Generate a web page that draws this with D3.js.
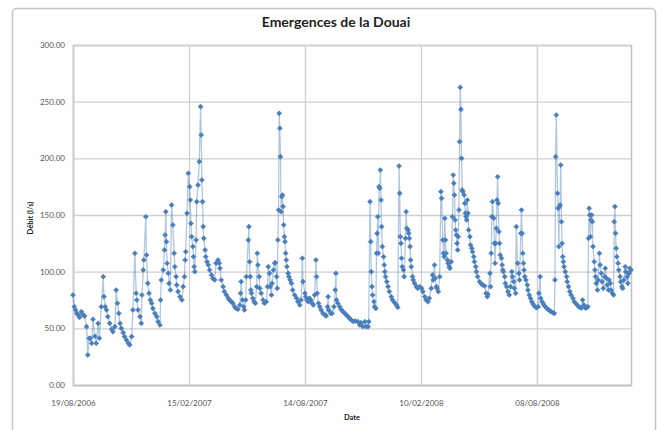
<!DOCTYPE html>
<html>
<head>
<meta charset="utf-8">
<script src="https://cdn.jsdelivr.net/npm/d3@7"></script>
<style>
  html, body { margin: 0; padding: 0; background: #ffffff; }
  svg { display: block; }
</style>
</head>
<body>
<svg id="chart" width="663" height="430"></svg>
<script>
// ---- data ----
const title = "Emergences de la Douai";
const xTitle = "Date";
const yTitle = "Débit (l/s)";
const startDate = "19/08/2006";
const endDayOffset = 866;
const xTickLabels = ["19/08/2006", "15/02/2007", "14/08/2007", "10/02/2008", "08/08/2008"];
const yTicks = [0, 50, 100, 150, 200, 250, 300];

// days since 19/08/2006
const dayOffsets = [
0,2,4,6,8,10,13,16,18,21,23,25,27,29,31,34,36,39,41,44,47,48,50,52,54,57,60,62,65,67,69,71,73,75,78,80,83,86,88,91,93,96,98,99,101,104,106,107,109,110,113,114,116,118,120,122,124,127,130,132,135,136,137,140,142,143,144,145,146,148,149,151,153,155,157,158,160,161,163,166,169,171,173,174,175,177,179,181,182,183,184,186,187,188,189,191,192,194,196,198,199,200,201,202,203,205,206,208,
210,212,215,217,220,222,225,227,228,230,233,235,238,241,243,246,248,251,253,256,259,260,261,263,265,266,268,269,272,273,274,275,276,277,279,281,283,285,286,287,289,290,292,295,297,300,302,303,305,306,308,309,311,313,314,316,317,318,319,320,321,322,323,324,325,326,327,328,329,330,331,332,334,335,337,339,341,344,347,349,352,354,356,357,360,361,363,365,367,369,371,373,375,377,378,379,381,383,385,388,391,393,395,396,397,400,402,405,407,408,409,411,414,416,419,422,424,427,429,432,
435,438,442,445,447,450,453,455,458,459,461,462,463,464,465,467,468,470,471,472,473,474,475,476,477,478,479,480,482,483,484,485,487,489,491,494,496,499,502,504,506,507,508,509,510,511,513,514,516,517,518,520,521,522,523,524,525,527,528,530,533,535,538,541,543,546,548,551,553,556,558,559,561,562,564,565,567,569,571,572,574,575,576,577,578,579,581,582,584,585,587,589,590,591,592,593,594,595,596,597,598,599,600,601,602,603,604,605,607,608,609,610,611,612,613,614,616,617,619,620,622,623,625,626,628,631,634,636,639,641,643,644,
647,648,649,650,651,653,654,655,656,657,658,659,660,661,662,663,665,666,667,668,670,671,673,675,677,679,681,682,684,685,687,688,690,692,693,695,696,697,698,699,700,701,703,705,706,708,710,712,714,716,719,722,723,725,726,728,730,732,735,737,740,742,745,747,748,749,750,752,753,754,755,756,757,758,759,760,761,762,764,766,767,769,771,773,776,778,781,784,786,789,791,793,795,797,799,800,801,802,803,804,805,806,807,809,810,811,812,814,815,817,818,820,821,823,825,826,828,829,831,832,834,835,837,839,840,841,842,843,844,846,847,849,850,852,853,855,857,858,860,861,863,864,866
];

// flow in l/s
const debit = [
79.4,69.1,66.2,63.2,61.8,59.7,64.7,61.8,60.9,51.5,26.5,41.2,41.2,36.8,58,43,36.8,54.4,41.2,69.1,95.6,78,69.1,66.2,60.3,54.4,49.1,47,51.5,83.8,72.1,63.2,54.4,50,46.2,42.7,39.7,36.8,35.3,42.7,66.2,116.2,80.9,75,66.2,60.3,54.4,79.4,101.5,110.3,148.5,114.7,89.7,80.9,75,72.1,67.6,63.2,60.3,55.9,53,75,92.6,101.5,119.1,132.4,152.9,126.5,107.4,98.5,89.7,83.8,158.8,141.2,116.2,104.4,95.6,88.2,82.4,77.9,75,86.8,95.6,110.3,117.6,151.5,186.8,175,163.2,142.6,130.9,122.1,113.2,104.4,100,128,161.8,176.5,197.1,245.6,220.6,180.9,161.8,139.7,129.4,119.1,113.2,108.8,
105.9,101.5,97.1,94.1,92.7,107.4,110.3,107.4,103,92.7,86.8,82.4,79.4,76.5,75,73.5,72.1,69.1,67.6,66.8,70.6,80.9,91.2,75,69.1,66.2,75,95.6,127.9,139.7,108.8,95.6,83.8,80.9,76.5,73.5,72.1,86.8,116.2,105.9,95.6,85.3,80.9,75,72.1,73.5,86.8,104.4,98.5,86.8,79.4,89.7,101.5,107.4,108,95.6,85.3,127.9,154.4,239.7,226.5,201.5,152.9,166.2,167.6,157.4,141.2,130.9,126.5,116.2,110.3,104.4,98.5,95.6,92.7,89.7,83.8,79.4,76.5,73.5,70.6,75,111.8,91.2,80.9,77.9,75,73.5,76.5,75,72.1,70.6,79.4,110.3,95.6,80.9,72.1,69.1,66.2,63.2,61.8,60.9,69.1,77.9,66.2,63.2,63.2,69.1,83.8,98.5,75,72.1,69.1,66.8,64.7,63.2,61.8,60.3,58.8,57.4,
56,56.5,55.9,53,55,51.5,55.9,51.5,51.5,55.9,161.8,126.5,100,86.8,79.4,73.5,69.1,67.6,116.2,133.8,148.5,116.2,175,173.5,189.7,163.2,139.7,122.1,113.2,105.9,100,95.6,91.2,86.8,82.4,77.9,75,72.7,70.6,68.5,193.2,169.1,130.9,125,111.8,104.4,101.5,95.6,129.4,152.9,138.2,136.8,133.8,129.4,122.1,110.3,104.4,95.6,92.7,89.7,86.8,85.3,86.8,85.3,82.4,77.9,75,73.5,76.5,85.3,97.1,92.7,105.9,94.1,86.8,85.3,82.4,95.6,170.6,164.7,127.9,116.2,113.2,147.1,127.9,116.2,110.3,107.4,104.4,103,108.8,148.5,185.3,178,167.6,145.6,136.8,132.4,125,119.1,130.9,154.4,214.7,262.6,243.2,200,172.1,170.6,167.6,160.3,151.5,148.5,145.6,163.2,151.5,136.8,130.9,123.5,120.6,117.6,113.2,108.8,104.4,100,95.6,91.2,89.1,88.2,87.4,80.9,77.9,80,
98.5,86.8,116.2,148.5,161.8,147.1,125,107.4,125,138.2,163.2,183.8,160.3,135.3,125,114.7,111.8,105.9,101.5,100,95.6,89.7,86.8,82.4,79.4,86.8,100,95.6,91.2,85.3,80.9,139.7,107.4,98.5,92.7,133.8,154.4,133.8,116.2,107.4,101.5,95.6,92.7,88.2,83.8,79.4,76.5,73.5,71.5,69.7,68.2,69.1,80.9,95.6,76.5,73.5,71.5,69.7,67.9,66.8,65.6,64.7,63.8,63.2,92.7,201.5,238.2,169.1,155.9,122.1,157.4,158.8,194.1,144.1,125,113.2,108.8,104.4,100,95.6,91.2,86.8,82.4,79.4,76.5,73.5,71.5,69.7,68.5,67.9,75,70.6,67.9,68.2,69.1,129.4,155.9,150,130.9,145.6,150,144.1,122.1,108.8,101.5,95.6,89.7,83.8,92.7,116.2,105.9,98.5,91.2,85.3,95.6,103,94.1,88.2,83.8,92.7,89.7,83.8,80.9,79.4,144.1,157.4,133.8,120.6,113.2,107.4,101.5,95.6,91.2,86.8,85.3,92.7,104.4,100,95.6,89.7,98.5,103,101.5
];

// ---- drawing ----
const svg = d3.select("#chart");
const W = 663, H = 430;
const plot = { left: 73, right: 631, top: 45, bottom: 385 };

const parseDate = d3.timeParse("%d/%m/%Y");
const t0 = parseDate(startDate);
const points = dayOffsets.map((d, i) => ({ date: d3.timeDay.offset(t0, d), v: debit[i] }));

const x = d3.scaleTime()
  .domain([t0, d3.timeDay.offset(t0, endDayOffset)])
  .range([plot.left, plot.right]);
const y = d3.scaleLinear().domain([0, 300]).range([plot.bottom, plot.top]);

svg.append("rect").attr("width", W).attr("height", H).attr("fill", "#ffffff");
// chart area frame
svg.append("rect")
  .attr("x", 12.5).attr("y", 8.5).attr("width", 643).attr("height", 440)
  .attr("rx", 4).attr("fill", "#ffffff")
  .attr("stroke", "#c4c4c4").attr("stroke-width", 1.5);

const fontFamily = "Lato, 'Open Sans', 'Liberation Sans', sans-serif";

// Y axis with horizontal gridlines
const yAxis = svg.append("g")
  .attr("transform", `translate(${plot.left},0)`)
  .call(d3.axisLeft(y).tickValues(yTicks).tickFormat(d => d.toFixed(2))
    .tickSize(-(plot.right - plot.left)).tickPadding(8));
yAxis.select(".domain").attr("stroke", "#c2c2c2").attr("stroke-width", 1.5);
yAxis.selectAll(".tick line").attr("stroke", "#cfcfcf").attr("stroke-width", 1.3);
yAxis.selectAll(".tick text").attr("fill", "#555").attr("font-size", "8px").attr("font-family", fontFamily);

// X axis with vertical gridlines
const xTickDates = xTickLabels.map(parseDate);
const xAxis = svg.append("g")
  .attr("transform", `translate(0,${plot.bottom})`)
  .call(d3.axisBottom(x).tickValues(xTickDates)
    .tickFormat((d, i) => xTickLabels[i])
    .tickSize(-(plot.bottom - plot.top)).tickPadding(15));
xAxis.select(".domain").attr("stroke", "#c2c2c2").attr("stroke-width", 1.5);
xAxis.selectAll(".tick line").attr("stroke", "#cfcfcf").attr("stroke-width", 1.3);
xAxis.selectAll(".tick text").attr("fill", "#555").attr("font-size", "8px").attr("font-family", fontFamily);

// series line
const line = d3.line().x(d => x(d.date)).y(d => y(d.v));
svg.append("path").datum(points)
  .attr("d", line)
  .attr("fill", "none")
  .attr("stroke", "#4f81bd")
  .attr("stroke-opacity", 0.45)
  .attr("stroke-width", 1.3);

// diamond markers
const sym = d3.symbol().type(d3.symbolSquare).size(13);
svg.append("g").selectAll("path").data(points).join("path")
  .attr("d", sym)
  .attr("transform", d => `translate(${x(d.date)},${y(d.v)}) rotate(45)`)
  .attr("fill", "#4a7ebb")
  .attr("stroke", "#4a7ebb")
  .attr("stroke-opacity", 0.6)
  .attr("stroke-width", 0.8);

// titles
svg.append("text")
  .attr("x", 336).attr("y", 27)
  .attr("text-anchor", "middle")
  .attr("font-family", fontFamily).attr("font-weight", "bold").attr("font-size", "14px")
  .attr("fill", "#222")
  .text(title);

svg.append("text")
  .attr("x", (plot.left + plot.right) / 2).attr("y", 420)
  .attr("text-anchor", "middle")
  .attr("font-family", fontFamily).attr("font-weight", "bold").attr("font-size", "7.5px")
  .attr("fill", "#222")
  .text(xTitle);

svg.append("text")
  .attr("transform", `translate(33,${(plot.top + plot.bottom) / 2 + 3}) rotate(-90)`)
  .attr("text-anchor", "middle")
  .attr("font-family", fontFamily).attr("font-weight", "bold").attr("font-size", "7.5px")
  .attr("fill", "#222")
  .text(yTitle);
</script>
</body>
</html>
